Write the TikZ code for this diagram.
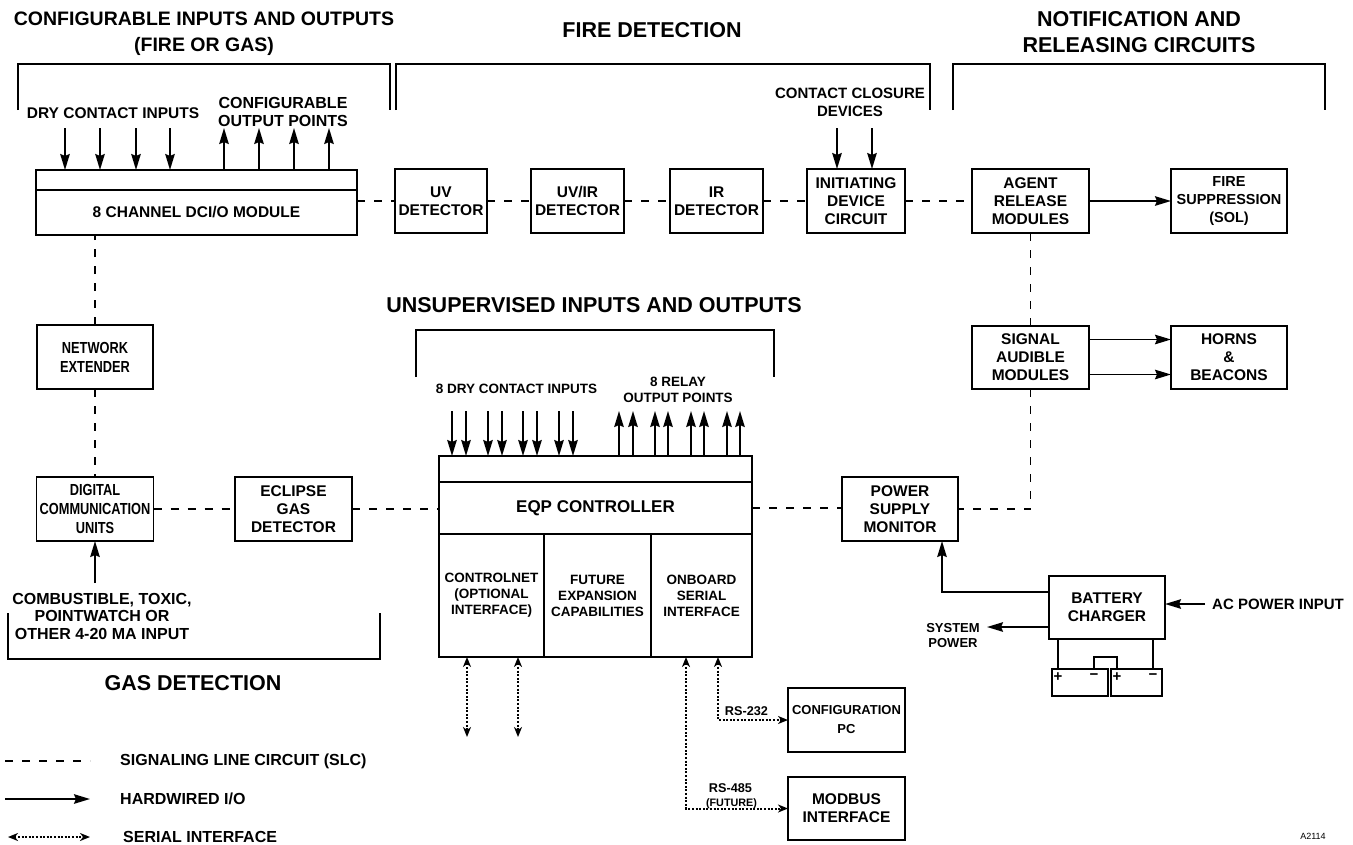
\documentclass[tikz,border=0pt]{standalone}
\usepackage{fontspec}
\setmainfont{Liberation Sans}
\newfontfamily\narrowfont{Liberation Sans}[FakeStretch=0.8]
\usetikzlibrary{positioning}
\usetikzlibrary{calc}
\usetikzlibrary{arrows.meta}
\tikzset{
blk/.style={
  draw=black,
  line width=1.6pt,
  inner sep=0pt,
  outer sep=0pt,
  align=center,
  font=\fontsize{15.5}{18}\selectfont\bfseries
  },
sub/.style={
  minimum height=123,
  font=\fontsize{13.5}{16}\selectfont\bfseries
  },
nar/.style={
  font=\narrowfont\fontsize{16}{19}\selectfont\bfseries
  },
lbl/.style={align=center, inner sep=0pt, font=\fontsize{16}{18}\selectfont\bfseries},
ttl/.style={align=center, inner sep=0pt, font=\fontsize{21.5}{26}\selectfont\bfseries},
sgn/.style={inner sep=0pt, font=\fontsize{15}{15}\selectfont\bfseries},
slc/.style={line width=1.8pt, dash pattern=on 8pt off 9pt},
hw/.style={line width=1.9pt, -{Stealth[length=16pt,width=9.5pt,inset=2pt]}},
ser/.style={line width=2pt, dash pattern=on 2pt off 1.6pt,
  {Stealth[length=10pt,width=8pt,inset=3pt]}-{Stealth[length=10pt,width=8pt,inset=3pt]}},
brk/.style={line width=1.5pt}
}

\begin{document}
\begin{tikzpicture}[x=1pt,y=-1pt]
\useasboundingbox (0,0) rectangle (1353,844);

% group titles
\node[ttl, font=\fontsize{19.5}{26}\selectfont\bfseries] (tcfg) at (204,34) {CONFIGURABLE INPUTS AND OUTPUTS\\(FIRE OR GAS)};
\node[ttl] (tfire) at (652,30) {FIRE DETECTION};
\node[ttl] (tnot) at (1139,32) {NOTIFICATION AND\\RELEASING CIRCUITS};
\node[ttl] (tuns) at (594,305) {UNSUPERVISED INPUTS AND OUTPUTS};
\node[ttl] (tgas) at (193,683) {GAS DETECTION};

% brackets
\draw[brk] (18,110) |- (390,64) -- (390,110);
\draw[brk] (396,110) |- (930,64) -- (930,110);
\draw[brk] (953,110) |- (1325,64) -- (1325,110);
\draw[brk] (416,377) |- (774,330) -- (774,377);
\draw[brk] (8,613) |- (380,659) -- (380,613);

% configurable inputs and outputs
\node[blk, minimum width=321, minimum height=20] (dciotop) at (196.5,180) {};
\node[blk, minimum width=321, minimum height=45, below=0pt of dciotop] (dcio) {8 CHANNEL DCI/O MODULE};
\node[lbl, font=\fontsize{15.5}{18}\selectfont\bfseries] (dcin) at (113,113) {DRY CONTACT INPUTS};
\node[lbl] (cop) at (283,112) {CONFIGURABLE\\OUTPUT POINTS};
\foreach \x in {65,100,136,170} {
  \coordinate (di\x) at (\x,128);
  \draw[hw] (di\x) -- (di\x |- dciotop.north);
}
\foreach \x in {224,259,294,329} {
  \coordinate (do\x) at (\x,128);
  \draw[hw] (do\x |- dciotop.north) -- (do\x);
}

% fire detection
\node[blk, minimum width=92, minimum height=64] (uv) at (441,201) {UV\\DETECTOR};
\node[blk, minimum width=93, minimum height=64, right=44pt of uv] (uvir) {UV/IR\\DETECTOR};
\node[blk, minimum width=93, minimum height=64, right=46pt of uvir] (ir) {IR\\DETECTOR};
\node[blk, minimum width=98, minimum height=64, right=44pt of ir] (idc) {INITIATING\\DEVICE\\CIRCUIT};
\node[lbl, font=\fontsize{15}{18}\selectfont\bfseries] (ccd) at (850,102) {CONTACT CLOSURE\\DEVICES};
\foreach \x in {837,872} {
  \coordinate (cc\x) at (\x,128);
  \draw[hw] (cc\x) -- (cc\x |- idc.north);
}

% notification and releasing
\node[blk, minimum width=117, minimum height=64] (arm) at (1030.5,201) {AGENT\\RELEASE\\MODULES};
\node[blk, minimum width=116, minimum height=64, right=82pt of arm, font=\fontsize{14.5}{18}\selectfont\bfseries] (fsup) {FIRE\\SUPPRESSION\\(SOL)};
\node[blk, minimum width=117, minimum height=63, below=93pt of arm] (sam) {SIGNAL\\AUDIBLE\\MODULES};
\node[blk, minimum width=116, minimum height=63, right=82pt of sam] (horn) {HORNS\\\&\\BEACONS};
\draw[hw] (arm) -- (fsup);
\draw[hw] ([yshift=18]sam.east) -- ([yshift=18]horn.west);
\draw[hw] ([yshift=-17]sam.east) -- ([yshift=-17]horn.west);

% gas detection
\node[blk, nar, minimum width=116, minimum height=64] (nex) at (95,357) {NETWORK\\EXTENDER};
\node[blk, nar, minimum width=117, minimum height=64] (dcu) at (95,509) {DIGITAL\\COMMUNICATION\\UNITS};
\node[blk, minimum width=117, minimum height=64] (egd) at (293.5,509) {ECLIPSE\\GAS\\DETECTOR};
\node[lbl, font=\fontsize{16}{17.5}\selectfont\bfseries] (gtxt) at (102,616) {COMBUSTIBLE, TOXIC,\\POINTWATCH OR\\OTHER 4-20 MA INPUT};
\coordinate (gin) at (95,583);
\draw[hw] (gin) -- (dcu.south);

% eqp controller
\node[blk, minimum width=313, minimum height=26] (eqptop) at (595.5,469) {};
\node[blk, minimum width=313, minimum height=52, below=0pt of eqptop, font=\fontsize{17}{20}\selectfont\bfseries] (eqp) {EQP CONTROLLER};
\node[blk, sub, minimum width=105, anchor=north west] (cnet) at (eqp.south west) {CONTROLNET\\(OPTIONAL\\INTERFACE)};
\node[blk, sub, minimum width=107, right=0pt of cnet] (fut) {FUTURE\\EXPANSION\\CAPABILITIES};
\node[blk, sub, minimum width=101, right=0pt of fut] (osi) {ONBOARD\\SERIAL\\INTERFACE};
\node[lbl, font=\fontsize{13.5}{16}\selectfont\bfseries] (dci8) at (516.5,389) {8 DRY CONTACT INPUTS};
\node[lbl, font=\fontsize{13.5}{16}\selectfont\bfseries] (rop8) at (678,389.5) {8 RELAY\\OUTPUT POINTS};
\foreach \x in {452,466,488,502,523,537,559,573} {
  \coordinate (ei\x) at (\x,411);
  \draw[hw] (ei\x) -- (ei\x |- eqptop.north);
}
\foreach \x in {619,633,655,668,691,704,727,740} {
  \coordinate (eo\x) at (\x,411);
  \draw[hw] (eo\x |- eqptop.north) -- (eo\x);
}

% serial links
\coordinate (cn1) at (467,737);
\coordinate (cn2) at (518,737);
\draw[ser] (cn1 |- cnet.south) -- (cn1);
\draw[ser] (cn2 |- cnet.south) -- (cn2);
\node[blk, minimum width=117, minimum height=64, font=\fontsize{13}{19}\selectfont\bfseries] (cpc) at (846.5,720) {CONFIGURATION\\PC};
\node[blk, minimum width=117, minimum height=63] (mbi) at (846.5,808.5) {MODBUS\\INTERFACE};
\draw[ser] ([xshift=-15.5]osi.south) |- (mbi.west);
\draw[ser] ([xshift=16.5]osi.south) |- (cpc.west);
\node[lbl, font=\fontsize{12.7}{14}\selectfont\bfseries] (rs232) at (746.5,711.5) {RS-232};
\node[lbl, font=\fontsize{12.7}{14}\selectfont\bfseries] (rs485) at (730.5,788) {RS-485};
\node[lbl, font=\fontsize{10.8}{12}\selectfont\bfseries] (fut485) at (731.5,803.5) {(FUTURE)};

% power
\node[blk, minimum width=116, minimum height=64] (psm) at (900,509) {POWER\\SUPPLY\\MONITOR};
\node[blk, minimum width=116, minimum height=63] (bch) at (1107,607.5) {BATTERY\\CHARGER};
\node[lbl, anchor=west, font=\fontsize{15}{18}\selectfont\bfseries] (acp) at (1212,604) {AC POWER INPUT};
\draw[hw] ([xshift=-7]acp.west) -- ([yshift=3.5]bch.east);
\draw[hw] ([yshift=15.5]bch.west) -| ([xshift=42]psm.south);
\node[lbl, font=\fontsize{13}{15}\selectfont\bfseries] (sysp) at (953,635.5) {SYSTEM\\POWER};
\coordinate (spt) at (987,627);
\draw[hw] (spt -| bch.west) -- (spt);
\node[blk, minimum width=56, minimum height=27] (bat1) at (1080,682.5) {};
\node[blk, minimum width=51, minimum height=27] (bat2) at (1136.5,682.5) {};
\coordinate (w1) at (1058,669);
\coordinate (w2) at (1153,669);
\coordinate (w3) at (1094,669);
\coordinate (w4) at (1117,669);
\draw[brk] (w1) -- (w1 |- bch.south);
\draw[brk] (w2) -- (w2 |- bch.south);
\draw[brk] (w3) -- ++(0,-12) -| (w4);
\foreach \x/\s in {1058/+,1094/−,1117/+,1153/−} {
  \node[sgn] (s\x) at (\x,677) {\s};
}

% signaling line circuit
\draw[slc] (uv.west -| dcio.east) -- (uv.west);
\draw[slc] (uv) -- (uvir);
\draw[slc] (uvir) -- (ir);
\draw[slc] (ir) -- (idc);
\draw[slc] (idc) -- (arm);
\draw[slc] (nex.north) -- (nex.north |- dcio.south);
\draw[slc] (nex) -- (dcu);
\draw[slc] (dcu) -- (egd);
\draw[slc] (egd.east) -- (egd.east -| eqp.west);
\draw[slc] (eqp.east) -- (eqp.east -| psm.west);
\draw[slc] (arm) -- (sam);
\draw[slc] (sam.south) |- (psm.east);

% legend
\node[lbl, anchor=west] (lslc) at (120,761) {SIGNALING LINE CIRCUIT (SLC)};
\node[lbl, anchor=west] (lhw) at (120,799) {HARDWIRED I/O};
\node[lbl, anchor=west] (lser) at (123,837) {SERIAL INTERFACE};
\draw[slc] ([xshift=-115]lslc.west) -- ([xshift=-30]lslc.west);
\draw[hw] ([xshift=-115]lhw.west) -- ([xshift=-30]lhw.west);
\draw[ser] ([xshift=-115]lser.west) -- ([xshift=-33]lser.west);
\node[font=\fontsize{9}{9}\selectfont, inner sep=0pt] (ref) at (1313,836) {A2114};
\end{tikzpicture}
\end{document}
